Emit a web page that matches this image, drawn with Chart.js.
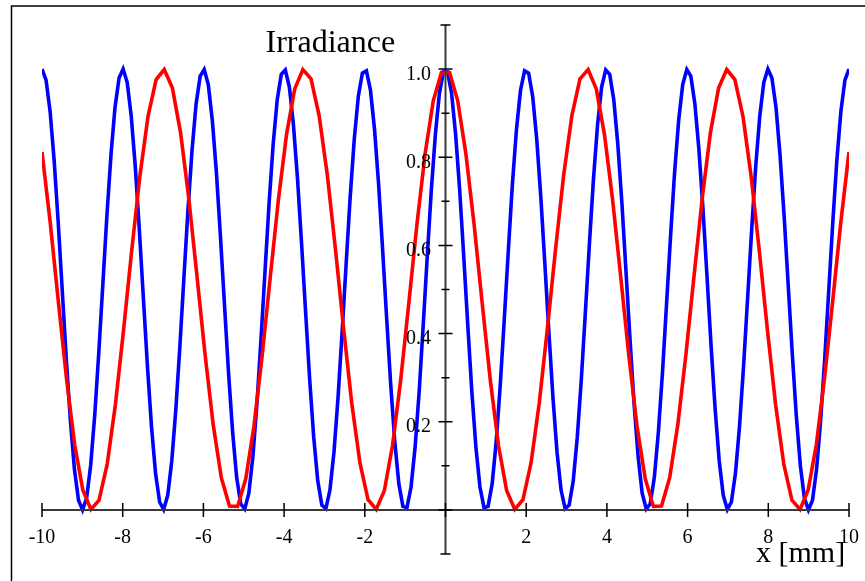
<!DOCTYPE html>
<html lang="en">
<head>
    <meta charset="UTF-8">
    <title>Irradiance</title>
    <style>
        body { margin: 0; background: #fff; }
        #wrap { width: 865px; height: 581px; }
    </style>
</head>
<body>
    <div id="wrap"><canvas id="irradianceChart" width="865" height="581"></canvas></div>

    <script src="https://cdn.jsdelivr.net/npm/chart.js@4.4.1/dist/chart.umd.min.js"></script>

    <script>
        // blue curve samples (200 points)
        const blueX = [
            -10.000, -9.899, -9.799, -9.698, -9.598, -9.497, -9.397, -9.296, -9.196, -9.095,
            -8.995, -8.894, -8.794, -8.693, -8.593, -8.492, -8.392, -8.291, -8.191, -8.090,
            -7.990, -7.889, -7.789, -7.688, -7.588, -7.487, -7.387, -7.286, -7.186, -7.085,
            -6.985, -6.884, -6.784, -6.683, -6.583, -6.482, -6.382, -6.281, -6.181, -6.080,
            -5.980, -5.879, -5.779, -5.678, -5.578, -5.477, -5.377, -5.276, -5.176, -5.075,
            -4.975, -4.874, -4.774, -4.673, -4.573, -4.472, -4.372, -4.271, -4.171, -4.070,
            -3.970, -3.869, -3.769, -3.668, -3.568, -3.467, -3.367, -3.266, -3.166, -3.065,
            -2.965, -2.864, -2.764, -2.663, -2.563, -2.462, -2.362, -2.261, -2.161, -2.060,
            -1.960, -1.859, -1.759, -1.658, -1.558, -1.457, -1.357, -1.256, -1.156, -1.055,
            -0.955, -0.854, -0.754, -0.653, -0.553, -0.452, -0.352, -0.251, -0.151, -0.050,
            0.050, 0.151, 0.251, 0.352, 0.452, 0.553, 0.653, 0.754, 0.854, 0.955,
            1.055, 1.156, 1.256, 1.357, 1.457, 1.558, 1.658, 1.759, 1.859, 1.960,
            2.060, 2.161, 2.261, 2.362, 2.462, 2.563, 2.663, 2.764, 2.864, 2.965,
            3.065, 3.166, 3.266, 3.367, 3.467, 3.568, 3.668, 3.769, 3.869, 3.970,
            4.070, 4.171, 4.271, 4.372, 4.472, 4.573, 4.673, 4.774, 4.874, 4.975,
            5.075, 5.176, 5.276, 5.377, 5.477, 5.578, 5.678, 5.779, 5.879, 5.980,
            6.080, 6.181, 6.281, 6.382, 6.482, 6.583, 6.683, 6.784, 6.884, 6.985,
            7.085, 7.186, 7.286, 7.387, 7.487, 7.588, 7.688, 7.789, 7.889, 7.990,
            8.090, 8.191, 8.291, 8.392, 8.492, 8.593, 8.693, 8.794, 8.894, 8.995,
            9.095, 9.196, 9.296, 9.397, 9.497, 9.598, 9.698, 9.799, 9.899, 10.000
        ];
        const blueY = [
            1.000, 0.975, 0.904, 0.792, 0.652, 0.496, 0.341, 0.202, 0.092, 0.022,
            0.000, 0.027, 0.101, 0.215, 0.356, 0.512, 0.667, 0.805, 0.913, 0.980,
            1.000, 0.970, 0.894, 0.779, 0.636, 0.480, 0.326, 0.189, 0.083, 0.018,
            0.001, 0.033, 0.111, 0.228, 0.371, 0.528, 0.681, 0.817, 0.921, 0.984,
            0.999, 0.965, 0.884, 0.766, 0.621, 0.465, 0.311, 0.177, 0.074, 0.014,
            0.002, 0.038, 0.121, 0.241, 0.387, 0.543, 0.696, 0.829, 0.930, 0.988,
            0.998, 0.959, 0.874, 0.752, 0.606, 0.449, 0.297, 0.165, 0.066, 0.011,
            0.003, 0.045, 0.131, 0.255, 0.402, 0.559, 0.710, 0.841, 0.938, 0.991,
            0.996, 0.952, 0.863, 0.739, 0.590, 0.433, 0.283, 0.154, 0.059, 0.008,
            0.005, 0.052, 0.142, 0.268, 0.418, 0.575, 0.725, 0.852, 0.945, 0.994,
            0.994, 0.945, 0.852, 0.725, 0.575, 0.418, 0.268, 0.142, 0.052, 0.005,
            0.008, 0.059, 0.154, 0.283, 0.433, 0.590, 0.739, 0.863, 0.952, 0.996,
            0.991, 0.938, 0.841, 0.710, 0.559, 0.402, 0.255, 0.131, 0.045, 0.003,
            0.011, 0.066, 0.165, 0.297, 0.449, 0.606, 0.752, 0.874, 0.959, 0.998,
            0.988, 0.930, 0.829, 0.696, 0.543, 0.387, 0.241, 0.121, 0.038, 0.002,
            0.014, 0.074, 0.177, 0.311, 0.465, 0.621, 0.766, 0.884, 0.965, 0.999,
            0.984, 0.921, 0.817, 0.681, 0.528, 0.371, 0.228, 0.111, 0.033, 0.001,
            0.018, 0.083, 0.189, 0.326, 0.480, 0.636, 0.779, 0.894, 0.970, 1.000,
            0.980, 0.913, 0.805, 0.667, 0.512, 0.356, 0.215, 0.101, 0.027, 0.000,
            0.022, 0.092, 0.202, 0.341, 0.496, 0.652, 0.792, 0.904, 0.975, 1.000
        ];

        // red curve samples (100 points)
        const redX = [
            -10.000, -9.798, -9.596, -9.394, -9.192, -8.990, -8.788, -8.586, -8.384, -8.182,
            -7.980, -7.778, -7.576, -7.374, -7.172, -6.970, -6.768, -6.566, -6.364, -6.162,
            -5.960, -5.758, -5.556, -5.354, -5.152, -4.949, -4.747, -4.545, -4.343, -4.141,
            -3.939, -3.737, -3.535, -3.333, -3.131, -2.929, -2.727, -2.525, -2.323, -2.121,
            -1.919, -1.717, -1.515, -1.313, -1.111, -0.909, -0.707, -0.505, -0.303, -0.101,
            0.101, 0.303, 0.505, 0.707, 0.909, 1.111, 1.313, 1.515, 1.717, 1.919,
            2.121, 2.323, 2.525, 2.727, 2.929, 3.131, 3.333, 3.535, 3.737, 3.939,
            4.141, 4.343, 4.545, 4.747, 4.949, 5.152, 5.354, 5.556, 5.758, 5.960,
            6.162, 6.364, 6.566, 6.768, 6.970, 7.172, 7.374, 7.576, 7.778, 7.980,
            8.182, 8.384, 8.586, 8.788, 8.990, 9.192, 9.394, 9.596, 9.798, 10.000
        ];
        const redY = [
            0.812, 0.653, 0.474, 0.299, 0.149, 0.046, 0.001, 0.022, 0.104, 0.238,
            0.407, 0.587, 0.756, 0.892, 0.976, 0.999, 0.957, 0.856, 0.708, 0.533,
            0.354, 0.194, 0.073, 0.009, 0.008, 0.071, 0.190, 0.349, 0.528, 0.704,
            0.852, 0.955, 0.999, 0.978, 0.894, 0.760, 0.591, 0.411, 0.242, 0.107,
            0.023, 0.001, 0.044, 0.146, 0.294, 0.469, 0.649, 0.808, 0.928, 0.992,
            0.992, 0.928, 0.808, 0.649, 0.469, 0.294, 0.146, 0.044, 0.001, 0.023,
            0.107, 0.242, 0.411, 0.591, 0.760, 0.894, 0.978, 0.999, 0.955, 0.852,
            0.704, 0.528, 0.349, 0.190, 0.071, 0.008, 0.009, 0.073, 0.194, 0.354,
            0.533, 0.708, 0.856, 0.957, 0.999, 0.976, 0.892, 0.756, 0.587, 0.407,
            0.238, 0.104, 0.022, 0.001, 0.046, 0.149, 0.299, 0.474, 0.653, 0.812
        ];

        // axis ticks and labels
        const xTicks = [-10, -8, -6, -4, -2, 0, 2, 4, 6, 8, 10];
        const xLabelValues = [-10, -8, -6, -4, -2, 2, 4, 6, 8, 10];
        const xLabelTexts = ['-10', '-8', '-6', '-4', '-2', '2', '4', '6', '8', '10'];
        const yMajorTicks = [0, 0.2, 0.4, 0.6, 0.8, 1.0];
        const yMinorTicks = [0.1, 0.3, 0.5, 0.7, 0.9];
        const yEndTicks = [-0.1, 1.1];
        const yLabelValues = [0.2, 0.4, 0.6, 0.8, 1.0];
        const yLabelTexts = ['0.2', '0.4', '0.6', '0.8', '1.0'];
        const yTitle = 'Irradiance';
        const xTitle = 'x [mm]';

        const toPoints = (xs, ys) => xs.map((x, i) => ({ x: x, y: ys[i] }));

        const serif = '"Liberation Serif", "Times New Roman", serif';

        const framePlugin = {
            id: 'frame',
            beforeDraw(chart) {
                const ctx = chart.ctx;
                ctx.save();
                ctx.strokeStyle = '#000';
                ctx.lineWidth = 1.5;
                ctx.beginPath();
                ctx.moveTo(11.5, 581);
                ctx.lineTo(11.5, 6);
                ctx.lineTo(865, 6);
                ctx.stroke();
                ctx.restore();
            }
        };

        // axes crossing at the origin, drawn over the curves
        const axesPlugin = {
            id: 'crossAxes',
            afterDatasetsDraw(chart) {
                const ctx = chart.ctx;
                const xs = chart.scales.x;
                const ys = chart.scales.y;
                const x0 = xs.getPixelForValue(0);
                const y0 = ys.getPixelForValue(0);

                ctx.save();
                ctx.strokeStyle = '#3a3a3a';
                ctx.lineWidth = 2;
                ctx.beginPath();
                ctx.moveTo(xs.getPixelForValue(-10), y0);
                ctx.lineTo(xs.getPixelForValue(10), y0);
                ctx.moveTo(x0, ys.getPixelForValue(1.1));
                ctx.lineTo(x0, ys.getPixelForValue(-0.1));
                ctx.stroke();

                ctx.strokeStyle = '#000';
                ctx.lineWidth = 1.5;
                ctx.beginPath();
                xTicks.forEach(v => {
                    const px = xs.getPixelForValue(v);
                    ctx.moveTo(px, y0 - 7);
                    ctx.lineTo(px, y0 + 7);
                });
                const yTick = (v, half) => {
                    const py = ys.getPixelForValue(v);
                    ctx.moveTo(x0 - half, py);
                    ctx.lineTo(x0 + half, py);
                };
                yMajorTicks.forEach(v => yTick(v, 7));
                yMinorTicks.forEach(v => yTick(v, 4));
                yEndTicks.forEach(v => yTick(v, 5));
                ctx.stroke();

                ctx.fillStyle = '#000';
                ctx.font = '20px ' + serif;
                ctx.textAlign = 'center';
                ctx.textBaseline = 'alphabetic';
                xLabelValues.forEach((v, i) => {
                    ctx.fillText(xLabelTexts[i], xs.getPixelForValue(v), 543);
                });
                ctx.textAlign = 'right';
                yLabelValues.forEach((v, i) => {
                    ctx.fillText(yLabelTexts[i], 431, ys.getPixelForValue(v) + 10.5);
                });

                ctx.textAlign = 'left';
                ctx.font = '32px ' + serif;
                ctx.fillText(yTitle, 265.5, 52);
                ctx.font = '30px ' + serif;
                ctx.fillText(xTitle, 756, 562);
                ctx.restore();
            }
        };

        const config = {
            type: 'line',
            data: {
                datasets: [
                    {
                        label: 'red',
                        data: toPoints(redX, redY),
                        borderColor: '#ff0000',
                        borderWidth: 3.6,
                        pointRadius: 0,
                        tension: 0,
                        fill: false
                    },
                    {
                        label: 'blue',
                        data: toPoints(blueX, blueY),
                        borderColor: '#0000ff',
                        borderWidth: 3.6,
                        pointRadius: 0,
                        tension: 0,
                        fill: false
                    }
                ]
            },
            options: {
                responsive: false,
                devicePixelRatio: 1,
                animation: false,
                events: [],
                layout: {
                    padding: { left: 42, right: 16, top: 25, bottom: 27 }
                },
                scales: {
                    x: { type: 'linear', min: -10, max: 10, display: false },
                    y: { type: 'linear', min: -0.1, max: 1.1, display: false }
                },
                plugins: {
                    legend: { display: false },
                    tooltip: { enabled: false }
                }
            },
            plugins: [framePlugin, axesPlugin]
        };

        const ctx = document.getElementById('irradianceChart').getContext('2d');
        new Chart(ctx, config);
    </script>
</body>
</html>
